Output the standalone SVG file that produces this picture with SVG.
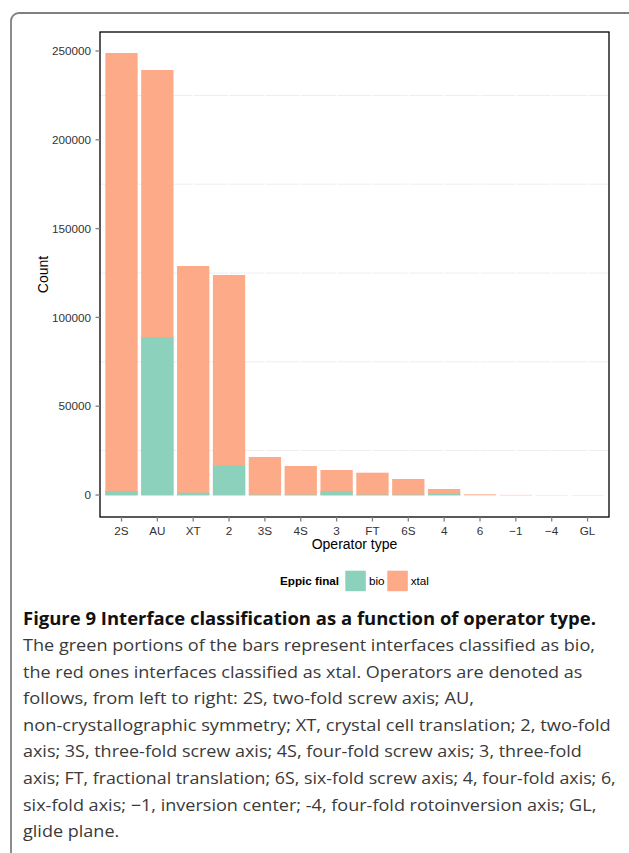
<svg xmlns="http://www.w3.org/2000/svg" width="629" height="853" viewBox="0 0 629 853">
<style>
.tick{stroke:#7f7f7f;stroke-width:1.3;fill:none}
.grid{stroke:#eeeeee;stroke-width:1;fill:none}
.vgrid{stroke:#ffffff;stroke-width:1.5;fill:none}
.ylab{font-family:"Liberation Sans",Arial,sans-serif;font-size:11.7px;fill:#333;text-anchor:end}
.xlab{font-family:"Liberation Sans",Arial,sans-serif;font-size:11.7px;fill:#333;text-anchor:middle}
.atitle{font-family:"Liberation Sans",Arial,sans-serif;font-size:14px;fill:#000;text-anchor:middle}
.leg{font-family:"Liberation Sans",Arial,sans-serif;font-size:11.7px;fill:#000}
.xtal{fill:#FDAA89}
.bio{fill:#8CD1BC}
.cap{font-family:"Open Sans","Noto Sans",sans-serif;font-size:16.5px;fill:#3a3a3a}
.capt{font-family:"Open Sans","Noto Sans",sans-serif;font-size:17.5px;font-weight:700;fill:#111}
</style>
<rect x="0" y="0" width="629" height="853" fill="#ffffff"/>
<path d="M11,853 V21 A8,8 0 0 1 19,13 H629" fill="none" stroke="#808080" stroke-width="1.8"/>
<g id="panel">
<rect x="100" y="32" width="509" height="485" fill="#ffffff"/>
<g id="gridlines">
<line class="grid" x1="100" y1="450.6" x2="609" y2="450.6"/>
<line class="grid" x1="100" y1="361.8" x2="609" y2="361.8"/>
<line class="grid" x1="100" y1="273" x2="609" y2="273"/>
<line class="grid" x1="100" y1="184.2" x2="609" y2="184.2"/>
<line class="grid" x1="100" y1="95.4" x2="609" y2="95.4"/>
<line class="vgrid" x1="121.5" y1="32" x2="121.5" y2="517"/>
<line class="vgrid" x1="157.35" y1="32" x2="157.35" y2="517"/>
<line class="vgrid" x1="193.2" y1="32" x2="193.2" y2="517"/>
<line class="vgrid" x1="229.05" y1="32" x2="229.05" y2="517"/>
<line class="vgrid" x1="264.9" y1="32" x2="264.9" y2="517"/>
<line class="vgrid" x1="300.75" y1="32" x2="300.75" y2="517"/>
<line class="vgrid" x1="336.6" y1="32" x2="336.6" y2="517"/>
<line class="vgrid" x1="372.45" y1="32" x2="372.45" y2="517"/>
<line class="vgrid" x1="408.3" y1="32" x2="408.3" y2="517"/>
<line class="vgrid" x1="444.15" y1="32" x2="444.15" y2="517"/>
<line class="vgrid" x1="480" y1="32" x2="480" y2="517"/>
<line class="vgrid" x1="515.85" y1="32" x2="515.85" y2="517"/>
<line class="vgrid" x1="551.7" y1="32" x2="551.7" y2="517"/>
<line class="vgrid" x1="587.55" y1="32" x2="587.55" y2="517"/>
</g>
<g id="bars">
<g id="bar-2S"><rect class="xtal" x="105.35" y="53" width="32.3" height="442.3"/><rect class="bio" x="105.35" y="491" width="32.3" height="4.3"/></g>
<g id="bar-AU"><rect class="xtal" x="141.2" y="70" width="32.3" height="425.3"/><rect class="bio" x="141.2" y="337" width="32.3" height="158.3"/></g>
<g id="bar-XT"><rect class="xtal" x="177.05" y="266" width="32.3" height="229.3"/><rect class="bio" x="177.05" y="492.7" width="32.3" height="2.6"/></g>
<g id="bar-2"><rect class="xtal" x="212.9" y="275" width="32.3" height="220.3"/><rect class="bio" x="212.9" y="465.7" width="32.3" height="29.6"/></g>
<g id="bar-3S"><rect class="xtal" x="248.75" y="457" width="32.3" height="38.3"/><rect class="bio" x="248.75" y="494.6" width="32.3" height="0.7"/></g>
<g id="bar-4S"><rect class="xtal" x="284.6" y="466" width="32.3" height="29.3"/><rect class="bio" x="284.6" y="494.6" width="32.3" height="0.7"/></g>
<g id="bar-3"><rect class="xtal" x="320.45" y="470" width="32.3" height="25.3"/><rect class="bio" x="320.45" y="491" width="32.3" height="4.3"/></g>
<g id="bar-FT"><rect class="xtal" x="356.3" y="472.7" width="32.3" height="22.6"/><rect class="bio" x="356.3" y="494.6" width="32.3" height="0.7"/></g>
<g id="bar-6S"><rect class="xtal" x="392.15" y="479" width="32.3" height="16.3"/><rect class="bio" x="392.15" y="494.6" width="32.3" height="0.7"/></g>
<g id="bar-4"><rect class="xtal" x="428" y="489" width="32.3" height="6.3"/><rect class="bio" x="428" y="493.7" width="32.3" height="1.6"/></g>
<g id="bar-6"><rect class="xtal" x="463.85" y="494.3" width="32.3" height="1"/></g>
<g id="bar-m1"><rect class="xtal" x="499.7" y="494.9" width="32.3" height="0.4"/></g>
<g id="bar-m4"><rect class="xtal" x="535.55" y="495.1" width="32.3" height="0.2"/></g>
<g id="bar-GL"><rect class="xtal" x="571.4" y="495.1" width="32.3" height="0.2"/></g>
</g>
<rect x="100" y="32" width="509" height="485" fill="none" stroke="#000" stroke-width="1.3"/>
</g>
<g id="y-axis">
<line class="tick" x1="95.5" y1="51" x2="100" y2="51"/>
<line class="tick" x1="95.5" y1="139.8" x2="100" y2="139.8"/>
<line class="tick" x1="95.5" y1="228.6" x2="100" y2="228.6"/>
<line class="tick" x1="95.5" y1="317.4" x2="100" y2="317.4"/>
<line class="tick" x1="95.5" y1="406.2" x2="100" y2="406.2"/>
<line class="tick" x1="95.5" y1="495" x2="100" y2="495"/>
<text class="ylab" x="91" y="55.2">250000</text>
<text class="ylab" x="91" y="144">200000</text>
<text class="ylab" x="91" y="232.8">150000</text>
<text class="ylab" x="91" y="321.6">100000</text>
<text class="ylab" x="91" y="410.4">50000</text>
<text class="ylab" x="91" y="499.2">0</text>
<text class="atitle" transform="translate(48,274.5) rotate(-90)">Count</text>
</g>
<g id="x-axis">
<line class="tick" x1="121.5" y1="517" x2="121.5" y2="521.5"/>
<line class="tick" x1="157.35" y1="517" x2="157.35" y2="521.5"/>
<line class="tick" x1="193.2" y1="517" x2="193.2" y2="521.5"/>
<line class="tick" x1="229.05" y1="517" x2="229.05" y2="521.5"/>
<line class="tick" x1="264.9" y1="517" x2="264.9" y2="521.5"/>
<line class="tick" x1="300.75" y1="517" x2="300.75" y2="521.5"/>
<line class="tick" x1="336.6" y1="517" x2="336.6" y2="521.5"/>
<line class="tick" x1="372.45" y1="517" x2="372.45" y2="521.5"/>
<line class="tick" x1="408.3" y1="517" x2="408.3" y2="521.5"/>
<line class="tick" x1="444.15" y1="517" x2="444.15" y2="521.5"/>
<line class="tick" x1="480" y1="517" x2="480" y2="521.5"/>
<line class="tick" x1="515.85" y1="517" x2="515.85" y2="521.5"/>
<line class="tick" x1="551.7" y1="517" x2="551.7" y2="521.5"/>
<line class="tick" x1="587.55" y1="517" x2="587.55" y2="521.5"/>
<text class="xlab" x="121.5" y="534.5">2S</text>
<text class="xlab" x="157.35" y="534.5">AU</text>
<text class="xlab" x="193.2" y="534.5">XT</text>
<text class="xlab" x="229.05" y="534.5">2</text>
<text class="xlab" x="264.9" y="534.5">3S</text>
<text class="xlab" x="300.75" y="534.5">4S</text>
<text class="xlab" x="336.6" y="534.5">3</text>
<text class="xlab" x="372.45" y="534.5">FT</text>
<text class="xlab" x="408.3" y="534.5">6S</text>
<text class="xlab" x="444.15" y="534.5">4</text>
<text class="xlab" x="480" y="534.5">6</text>
<text class="xlab" x="515.85" y="534.5">−1</text>
<text class="xlab" x="551.7" y="534.5">−4</text>
<text class="xlab" x="587.55" y="534.5">GL</text>
<text class="atitle" x="354.5" y="548.5">Operator type</text>
</g>
<g id="legend">
<text class="leg" x="280" y="585" font-weight="700">Eppic final</text>
<rect class="bio" x="345.3" y="570.7" width="20.5" height="20.5"/>
<text class="leg" x="369" y="585">bio</text>
<rect class="xtal" x="387.3" y="570.7" width="20.5" height="20.5"/>
<text class="leg" x="410.7" y="585">xtal</text>
</g>
<g id="caption">
<text class="capt" x="23" y="624.5" textLength="573" lengthAdjust="spacingAndGlyphs">Figure 9 Interface classification as a function of operator type.</text>
<text class="cap" x="23" y="651" textLength="572" lengthAdjust="spacingAndGlyphs">The green portions of the bars represent interfaces classified as bio,</text>
<text class="cap" x="23" y="677.6" textLength="559.3" lengthAdjust="spacingAndGlyphs">the red ones interfaces classified as xtal. Operators are denoted as</text>
<text class="cap" x="23" y="704.2" textLength="451" lengthAdjust="spacingAndGlyphs">follows, from left to right: 2S, two-fold screw axis; AU,</text>
<text class="cap" x="23" y="730.8" textLength="587.7" lengthAdjust="spacingAndGlyphs">non-crystallographic symmetry; XT, crystal cell translation; 2, two-fold</text>
<text class="cap" x="23" y="757.4" textLength="558.7" lengthAdjust="spacingAndGlyphs">axis; 3S, three-fold screw axis; 4S, four-fold screw axis; 3, three-fold</text>
<text class="cap" x="23" y="784" textLength="592.7" lengthAdjust="spacingAndGlyphs">axis; FT, fractional translation; 6S, six-fold screw axis; 4, four-fold axis; 6,</text>
<text class="cap" x="23" y="810.6" textLength="573.3" lengthAdjust="spacingAndGlyphs">six-fold axis; −1, inversion center; -4, four-fold rotoinversion axis; GL,</text>
<text class="cap" x="23" y="837.2" textLength="96.3" lengthAdjust="spacingAndGlyphs">glide plane.</text>
</g>
</svg>
